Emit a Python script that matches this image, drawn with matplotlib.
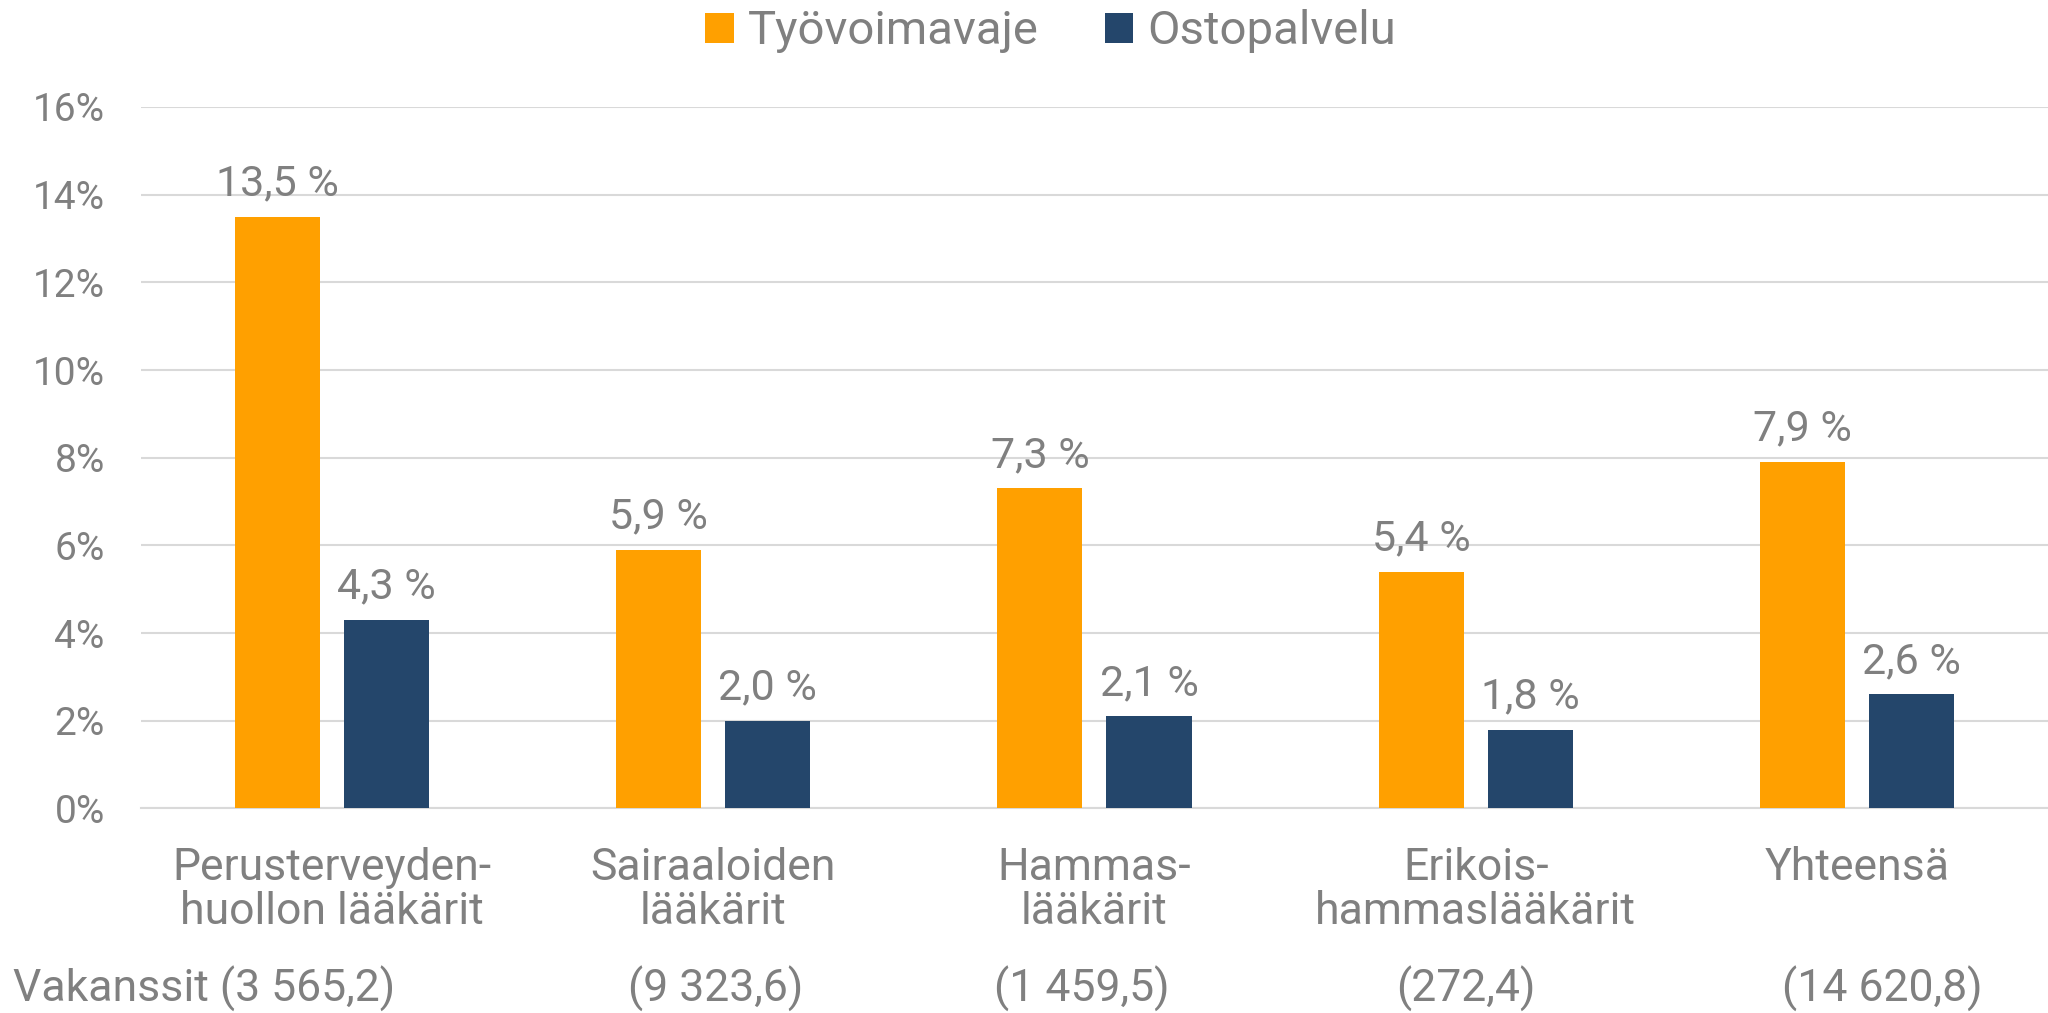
import numpy as np
import matplotlib.pyplot as plt

plt.rcParams['font.family'] = ['Roboto', 'DejaVu Sans']

categories = ['Perusterveyden-\nhuollon lääkärit', 'Sairaaloiden\nlääkärit',
              'Hammas-\nlääkärit', 'Erikois-\nhammaslääkärit', 'Yhteensä']
vakanssit = ['Vakanssit (3 565,2)', '(9 323,6)', '(1 459,5)', '(272,4)', '(14 620,8)']
tyovoimavaje = [13.5, 5.9, 7.3, 5.4, 7.9]
ostopalvelu = [4.3, 2.0, 2.1, 1.8, 2.6]
yticks = [0, 2, 4, 6, 8, 10, 12, 14, 16]

orange = '#FFA000'
navy = '#24466B'
grey = '#808080'

fig = plt.figure(figsize=(20.48, 10.13), dpi=100)
ax = fig.add_axes([0.0688, 0.2019, 0.9312, 0.6925])

x = np.arange(len(categories))
w = 0.223
off = 0.143
b1 = ax.bar(x - off, tyovoimavaje, w, color=orange, label='Työvoimavaje', zorder=3)
b2 = ax.bar(x + off, ostopalvelu, w, color=navy, label='Ostopalvelu', zorder=3)

for bars, vals in ((b1, tyovoimavaje), (b2, ostopalvelu)):
    for r, v in zip(bars, vals):
        ax.annotate(f'{v:.1f} %'.replace('.', ','), (r.get_x() + r.get_width() / 2, v),
                    xytext=(0, 9), textcoords='offset points', ha='center', va='bottom',
                    fontsize=31, color=grey)

ax.set_xlim(-0.5, len(categories) - 0.5)
ax.set_ylim(0, 16)
ax.set_yticks(yticks)
ax.set_yticklabels([f'{t}%' for t in yticks], fontsize=28, color=grey)
ax.set_xticks(x)
ax.set_xticklabels(categories, fontsize=32, color=grey, linespacing=1.05)
ax.tick_params(length=0)
ax.tick_params(axis='x', pad=28)
ax.tick_params(axis='y', pad=26)
ax.grid(axis='y', color='#d9d9d9', linewidth=1.5, zorder=0)
ax.spines[['top', 'right', 'left']].set_visible(False)
ax.spines['bottom'].set_color('#d9d9d9')
ax.spines['bottom'].set_linewidth(1.5)

# vakanssit row below the category labels
fig.text(0.0064, 0.024, vakanssit[0], fontsize=32, color=grey, ha='left', va='center')
for xf, t in zip([0.3495, 0.528, 0.7156, 0.919], vakanssit[1:]):
    fig.text(xf, 0.024, t, fontsize=32, color=grey, ha='center', va='center')

fig.legend(handles=[b1, b2], loc='center', bbox_to_anchor=(0.513, 0.969), ncol=2,
           frameon=False, fontsize=34, labelcolor=grey, handlelength=0.6,
           handleheight=0.6, handletextpad=0.3, columnspacing=1.4)

fig.savefig('out.png', dpi=100)
